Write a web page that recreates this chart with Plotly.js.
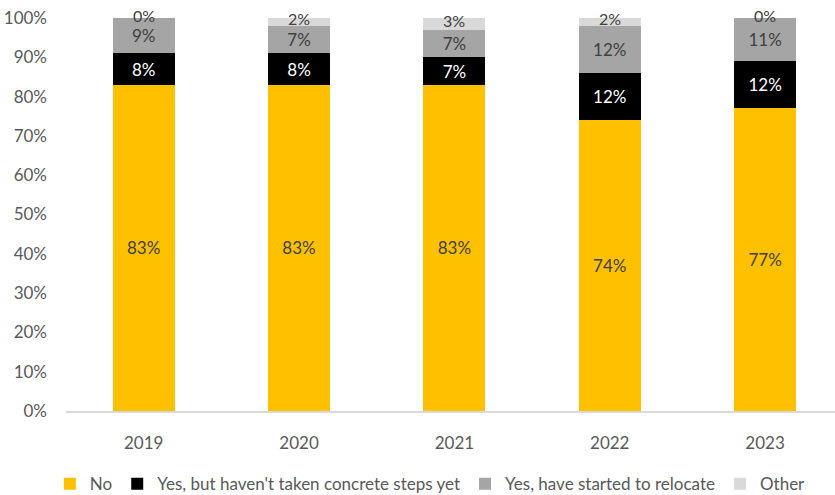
<!DOCTYPE html>
<html><head><meta charset="utf-8">
<script src="https://cdn.plot.ly/plotly-3.0.1.min.js"></script>
<style>body{margin:0}#c{width:835px;height:495px}</style>
</head><body><div id="c"></div>
<script>
var years = ['2019','2020','2021','2022','2023'];
var noVals = [83,83,83,74,77];
var yesNotSteps = [8,8,7,12,12];
var yesRelocate = [9,7,7,12,11];
var otherVals = [0,2,3,2,0];
var seriesNames = ['No',"Yes, but haven't taken concrete steps yet",'Yes, have started to relocate','Other'];
var colors = ['#FFC000','#000000','#A5A5A5','#D9D9D9'];
var labelColors = ['#404040','#FFFFFF','#404040','#404040'];
var FONT = 'Lato, Calibri, sans-serif';
var all = [noVals, yesNotSteps, yesRelocate, otherVals];
var traces = all.map(function(v,i){
  return {type:'bar', x:years, y:v, name:seriesNames[i], width:0.4,
    marker:{color:colors[i]},
    text: i<3 ? v.map(function(d){return d+'%';}) : null,
    textposition: i<3 ? 'inside' : 'none',
    insidetextanchor:'middle',
    textfont:{family:FONT,size:17,color:labelColors[i]},
    hoverinfo:'none'};
});
var ann = years.map(function(y,k){
  var base = noVals[k]+yesNotSteps[k]+yesRelocate[k];
  return {xref:'x', yref:'y', x:k, y:base+otherVals[k]/2, yshift:3, text:otherVals[k]+'%', showarrow:false,
    yanchor:'middle', borderpad:0, font:{family:FONT,size:16,color:'#404040'}};
});
var layout = {
  barmode:'stack', bargap:0.6,
  margin:{l:66,r:0,t:18,b:84,autoexpand:false},
  paper_bgcolor:'#fff', plot_bgcolor:'#fff',
  font:{family:FONT,size:17,color:'#595959'},
  showlegend:true,
  xaxis:{type:'category', range:[-0.5,4.45], showline:true, linecolor:'#D9D9D9', linewidth:1.5,
    ticks:'', ticklabelstandoff:16, tickfont:{family:FONT,size:17,color:'#595959'}, zeroline:false, automargin:false},
  yaxis:{range:[0,100], dtick:10, ticksuffix:'%', showgrid:false, zeroline:false, automargin:false,
    ticks:'', ticklabelstandoff:18, tickfont:{family:FONT,size:17,color:'#595959'}},
  legend:{orientation:'h', x:-0.021, xanchor:'left', y:-0.186, yanchor:'middle',
    font:{family:FONT,size:17,color:'#595959'}, itemwidth:30, traceorder:'normal'},
  annotations:ann
};
Plotly.newPlot('c', traces, layout, {displayModeBar:false, staticPlot:true});
</script></body></html>
